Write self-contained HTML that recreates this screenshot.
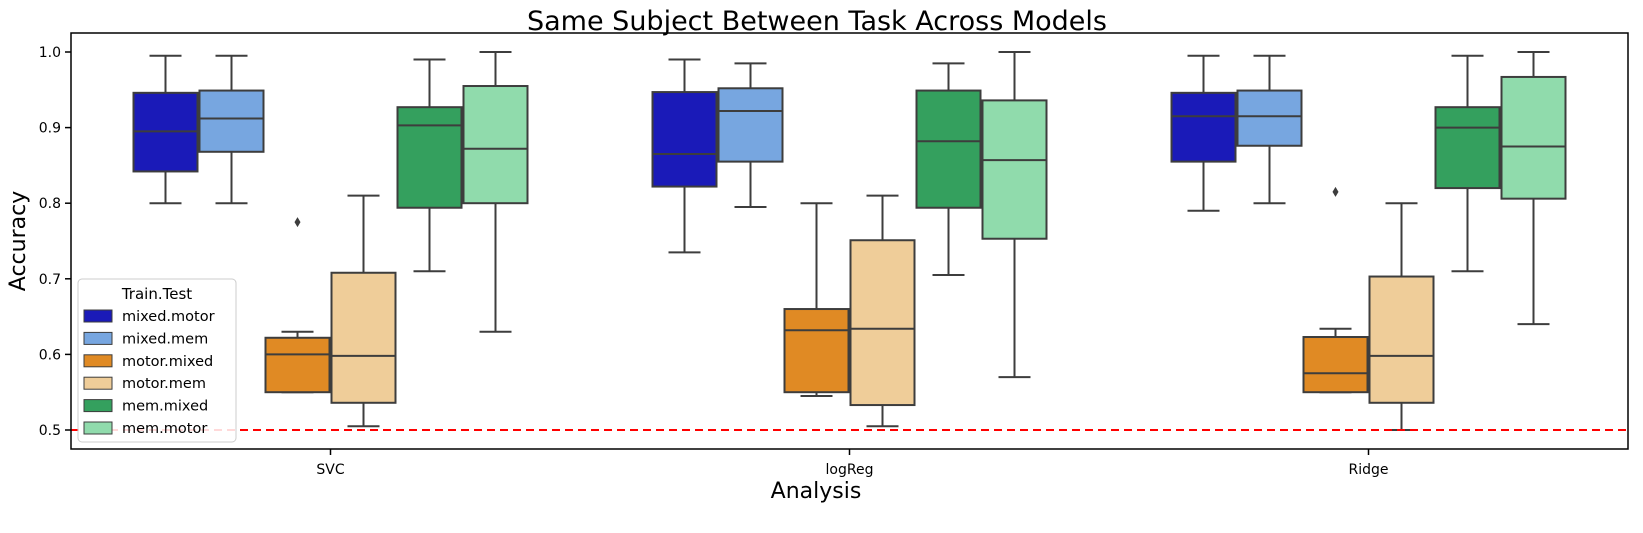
<!DOCTYPE html>
<html><head><meta charset="utf-8"><style>
body{margin:0;background:#fff;}
svg{display:block;font-family:"DejaVu Sans","Liberation Sans",sans-serif;}
</style></head><body>
<svg id="chart" width="1643" height="533" viewBox="0 0 1643 533">
<text x="817" y="30" text-anchor="middle" font-size="27">Same Subject Between Task Across Models</text>
<text transform="translate(25,241) rotate(-90)" text-anchor="middle" font-size="22">Accuracy</text>
<text x="816" y="498" text-anchor="middle" font-size="22">Analysis</text>
<g id="plot"></g>
<g id="axes"></g>
<rect x="71" y="33" width="1557" height="416" fill="none" stroke="#000" stroke-width="1.5"/>
<g id="legend"></g>
</svg>
<script>
const categories=["SVC","logReg","Ridge"];
const seriesNames=["mixed.motor","mixed.mem","motor.mixed","motor.mem","mem.mixed","mem.motor"];
const seriesColors=["#1a1ab8","#77a6e0","#e08a24","#efcd99","#34a05e","#90dbac"];
// [min,q1,median,q3,max] per category per series
const svcStats=[[.80,.842,.895,.946,.995],[.80,.868,.912,.949,.995],[.55,.55,.60,.622,.63],[.505,.536,.598,.708,.81],[.71,.794,.903,.927,.99],[.63,.80,.872,.955,1.0]];
const logRegStats=[[.735,.822,.865,.947,.99],[.795,.855,.922,.952,.985],[.545,.55,.632,.66,.80],[.505,.533,.634,.751,.81],[.705,.794,.882,.949,.985],[.57,.753,.857,.936,1.0]];
const ridgeStats=[[.79,.855,.915,.946,.995],[.80,.876,.915,.949,.995],[.55,.55,.575,.623,.634],[.50,.536,.598,.703,.80],[.71,.82,.90,.927,.995],[.64,.806,.875,.967,1.0]];
const outliers=[[0,2,.775],[2,2,.815]];
const yTicks=[0.5,0.6,0.7,0.8,0.9,1.0];
const chanceLevel=0.5;

const NS="http://www.w3.org/2000/svg";
const L=71,R=1628;
const yS=v=>430-(v-0.5)*756;
const catW=(R-L)/categories.length;
const xC=i=>L+catW*(i+0.5);
const slot=66,boxW=64;
const xS=(c,s)=>xC(c)+(s-2.5)*slot;
function mk(tag,attrs,parent){const e=document.createElementNS(NS,tag);for(const k in attrs)e.setAttribute(k,attrs[k]);parent.appendChild(e);return e;}
const plot=document.getElementById('plot');
const axes=document.getElementById('axes');
yTicks.forEach(t=>{
  const y=yS(t);
  const tk=mk('line',{x1:65,x2:71,y1:y,y2:y,stroke:'#000','stroke-width':1.5},axes);
  
  
  const tx=mk('text',{x:61,y:y+5,'text-anchor':'end','font-size':14},axes);
  tx.textContent=t.toFixed(1);
  
  
});
categories.forEach((c,i)=>{
  const x=xC(i);
  const tk=mk('line',{x1:x,x2:x,y1:449,y2:455,stroke:'#000','stroke-width':1.5},axes);
  
  
  const tx=mk('text',{x:x,y:474,'text-anchor':'middle','font-size':14},axes);
  tx.textContent=c;
  
  
});
const allStats=[svcStats,logRegStats,ridgeStats];
const ec='#3d3d3d';
allStats.forEach((st,c)=>{
  st.forEach((d,s)=>{
    const x=xS(c,s);
    const g=mk('g',{},plot);
    
    
    mk('line',{x1:x,x2:x,y1:yS(d[0]),y2:yS(d[1]),stroke:ec,'stroke-width':2},g);
    mk('line',{x1:x,x2:x,y1:yS(d[3]),y2:yS(d[4]),stroke:ec,'stroke-width':2},g);
    mk('line',{x1:x-16,x2:x+16,y1:yS(d[0]),y2:yS(d[0]),stroke:ec,'stroke-width':2},g);
    mk('line',{x1:x-16,x2:x+16,y1:yS(d[4]),y2:yS(d[4]),stroke:ec,'stroke-width':2},g);
    mk('rect',{x:x-boxW/2,y:yS(d[3]),width:boxW,height:yS(d[1])-yS(d[3]),fill:seriesColors[s],stroke:ec,'stroke-width':2},g);
    mk('line',{x1:x-boxW/2,x2:x+boxW/2,y1:yS(d[2]),y2:yS(d[2]),stroke:ec,'stroke-width':2},g);
  });
});
outliers.forEach(o=>{
  const x=xS(o[0],o[1]),y=yS(o[2]);
  const p=mk('path',{d:`M${x} ${y-5}L${x+3} ${y}L${x} ${y+5}L${x-3} ${y}Z`,fill:ec},plot);
  
  
});
const cl=mk('line',{x1:L,x2:R,y1:yS(chanceLevel),y2:yS(chanceLevel),stroke:'#ff0000','stroke-width':2,'stroke-dasharray':'8,5'},plot);


const lg=document.getElementById('legend');
mk('rect',{x:78,y:279,width:158,height:163,rx:4,fill:'#fff','fill-opacity':0.85,stroke:'#ccc'},lg);
const lt=mk('text',{x:157,y:299,'text-anchor':'middle','font-size':15},lg);
lt.textContent='Train.Test';
seriesNames.forEach((n,i)=>{
  const y=316+i*22.4;
  const r=mk('rect',{x:84,y:y-6,width:28,height:12,fill:seriesColors[i],stroke:ec,'stroke-width':1},lg);
  
  
  const t=mk('text',{x:122,y:y+5,'font-size':14.5},lg);
  t.textContent=n;
  
  
});
</script>
</body></html>
